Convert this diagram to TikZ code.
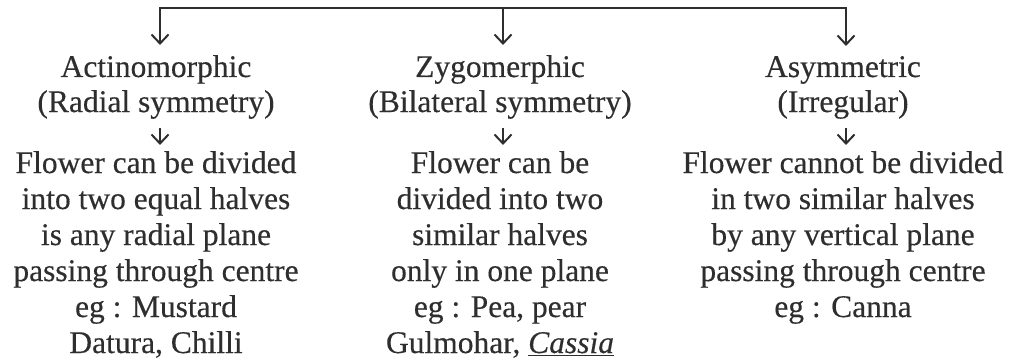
\documentclass[tikz,border=0pt]{standalone}
\usepackage{fontspec}
\setmainfont{Liberation Serif}
\usetikzlibrary{arrows.meta}
\definecolor{ink}{HTML}{2E2E2E}
\tikzset{
  txt/.style={inner sep=0pt, anchor=base, text=ink, font=\fontsize{31.5}{36}\selectfont\addfontfeature{FakeBold=0.35}},
  conn/.style={draw=ink, line width=2pt},
  endtip/.style={-{Straight Barb[length=9pt,width=17pt]}},
  bothtip/.style={{Straight Barb[length=9pt,width=17pt]}-{Straight Barb[length=9pt,width=17pt]}},
}
\begin{document}
\begin{tikzpicture}[x=1pt,y=-1pt]
\useasboundingbox (0,0) rectangle (1011,361);
% column 1
\node[txt] (a1) at (156,77) {Actinomorphic};
\node[txt] (a2) at (156,112) {(Radial symmetry)};
\node[txt] (a3) at (156,173) {Flower can be divided};
\node[txt] (a4) at (156,209) {into two equal halves};
\node[txt] (a5) at (156,245) {is any radial plane};
\node[txt] (a6) at (156,281) {passing through centre};
\node[txt] (a7) at (156,317) {eg : Mustard};
\node[txt] (a8) at (156,353) {Datura, Chilli};
% column 2
\node[txt] (b1) at (500,77) {Zygomerphic};
\node[txt] (b2) at (500,112) {(Bilateral symmetry)};
\node[txt] (b3) at (500,173) {Flower can be};
\node[txt] (b4) at (500,209) {divided into two};
\node[txt] (b5) at (500,245) {similar halves};
\node[txt] (b6) at (500,281) {only in one plane};
\node[txt] (b7) at (500,317) {eg : Pea, pear};
\node[txt] (b8) at (500,353) {Gulmohar, \underline{\textit{Cassia}}};
% column 3
\node[txt] (c1) at (843,77) {Asymmetric};
\node[txt] (c2) at (843,112) {(Irregular)};
\node[txt] (c3) at (843,173) {Flower cannot be divided};
\node[txt] (c4) at (843,209) {in two similar halves};
\node[txt] (c5) at (843,245) {by any vertical plane};
\node[txt] (c6) at (843,281) {passing through centre};
\node[txt] (c7) at (843,317) {eg : Canna};
% connector coordinates
\coordinate (t1) at (160,8);
\coordinate (t2) at (503,8);
\coordinate (t3) at (846,8);
% top bracket
\draw[conn, bothtip, shorten <=10pt, shorten >=10pt]
  (t1 |- a1.north) -- (t1) -- (t3) -- (t3 |- c1.north);
\draw[conn, endtip, shorten >=10pt] (t2) -- (t2 |- b1.north);
% small arrows
\draw[conn, endtip, shorten <=9pt, shorten >=6pt] (t1 |- a2.south) -- (t1 |- a3.north);
\draw[conn, endtip, shorten <=9pt, shorten >=6pt] (t2 |- b2.south) -- (t2 |- b3.north);
\draw[conn, endtip, shorten <=9pt, shorten >=6pt] (t3 |- c2.south) -- (t3 |- c3.north);
\end{tikzpicture}
\end{document}
